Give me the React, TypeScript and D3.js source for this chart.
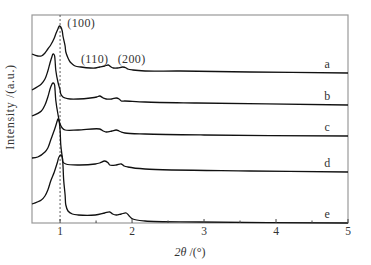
import React from 'react';
import * as d3 from 'd3';

// 2θ (degrees) and intensity (a.u., curves already stacked with offsets)
const curveA: [number, number][] = [
  [0.61, 169], [0.69, 167], [0.74, 167], [0.79, 170], [0.83, 174], [0.87, 178], [0.92, 185],
  [0.94, 189], [0.97, 194], [0.99, 197], [1.01, 196], [1.03, 192], [1.04, 187], [1.07, 177],
  [1.08, 171], [1.11, 165], [1.14, 161], [1.17, 159], [1.21, 157], [1.29, 156], [1.42, 155],
  [1.49, 155], [1.55, 156], [1.62, 157], [1.67, 158], [1.71, 156], [1.74, 155], [1.80, 155],
  [1.87, 156], [1.92, 155], [1.94, 154], [2.01, 153], [2.18, 152], [2.67, 152], [3.64, 151], [5, 150],
];
const curveB: [number, number][] = [
  [0.61, 133], [0.74, 139], [0.79, 144], [0.83, 152], [0.86, 160], [0.89, 167], [0.90, 169],
  [0.92, 168], [0.93, 163], [0.94, 153], [0.97, 141], [1.0, 133], [1.01, 129], [1.04, 126],
  [1.07, 125], [1.14, 124], [1.25, 124], [1.42, 125], [1.51, 126], [1.55, 127], [1.6, 125],
  [1.64, 124], [1.72, 124], [1.78, 125], [1.82, 124], [1.85, 122], [1.9, 122], [2.18, 121],
  [2.9, 120], [5, 118],
];
const curveC: [number, number][] = [
  [0.61, 107], [0.74, 112], [0.79, 118], [0.83, 126], [0.87, 136], [0.90, 140], [0.92, 139],
  [0.93, 133], [0.94, 123], [0.97, 109], [1.0, 99], [1.03, 95], [1.07, 93], [1.25, 93],
  [1.55, 94], [1.6, 92], [1.64, 91], [1.72, 92], [1.78, 93], [1.82, 92], [1.85, 91], [1.9, 90],
  [2.18, 89], [3, 88], [5, 87],
];
const curveD: [number, number][] = [
  [0.61, 65], [0.69, 66], [0.79, 71], [0.83, 75], [0.87, 83], [0.93, 95], [0.96, 102],
  [0.97, 104], [0.985, 102], [1.0, 93], [1.01, 78], [1.03, 66], [1.04, 61], [1.08, 59],
  [1.25, 58], [1.49, 59], [1.55, 60], [1.62, 62], [1.67, 60], [1.69, 58], [1.78, 58],
  [1.85, 59], [1.89, 57], [1.94, 56], [2.18, 54], [3.64, 52], [5, 51],
];
const curveE: [number, number][] = [
  [0.61, 19], [0.74, 23], [0.79, 27], [0.83, 33], [0.87, 42], [0.92, 51], [0.96, 60],
  [0.985, 66], [1.01, 68], [1.03, 66], [1.04, 58], [1.05, 43], [1.07, 28], [1.08, 18],
  [1.11, 12], [1.17, 9], [1.25, 8], [1.49, 8], [1.62, 10], [1.69, 11], [1.73, 9], [1.78, 8],
  [1.85, 9], [1.92, 10], [1.96, 7], [2.01, 4], [2.18, 2], [2.94, 1], [5, 0],
];

const series = [curveA, curveB, curveC, curveD, curveE];
const seriesLabels = ['a', 'b', 'c', 'd', 'e'];

const majorTicks = [1, 2, 3, 4, 5];
const minorTicks = [1.5, 2.5, 3.5, 4.5];

const peakLabels = [
  { text: '(100)', x: 1.1, y: 196 },
  { text: '(110)', x: 1.29, y: 160 },
  { text: '(200)', x: 1.8, y: 160 },
];

const W = 371;
const H = 265;
const margin = { top: 15, right: 23, bottom: 42, left: 32 };
const font = '"Liberation Serif", "Times New Roman", serif';

export default function App() {
  const x = d3.scaleLinear().domain([0.61, 5]).range([margin.left, W - margin.right]);
  const y = d3.scaleLinear().domain([0, 208]).range([H - margin.bottom, margin.top]);
  const line = d3
    .line<[number, number]>()
    .x(d => x(d[0]))
    .y(d => y(d[1]))
    .curve(d3.curveCatmullRom.alpha(0.5));

  const x0 = margin.left;
  const x1 = W - margin.right;
  const y0 = H - margin.bottom;
  const y1 = margin.top;

  return (
    <svg
      width={W}
      height={H}
      style={{ position: 'absolute', left: 0, top: 0, background: '#fff' }}
      fontFamily={font}
    >
      {/* frame */}
      <rect x={x0} y={y1} width={x1 - x0} height={y0 - y1} fill="none" stroke="#999" strokeWidth={1.2} />

      {/* dashed reference line at 2θ = 1 */}
      <line x1={x(1)} x2={x(1)} y1={y1} y2={y0} stroke="#333" strokeWidth={0.8} strokeDasharray="2,2" />

      {/* curves */}
      {series.map((s, i) => (
        <path key={i} d={line(s) || ''} fill="none" stroke="#111" strokeWidth={1.3} />
      ))}

      {/* ticks */}
      {majorTicks.map(t => (
        <g key={t}>
          <line x1={x(t)} x2={x(t)} y1={y0} y2={y0 - 4} stroke="#444" strokeWidth={1} />
          <text x={x(t)} y={y0 + 12} textAnchor="middle" fontSize={11.5} fill="#333">
            {t}
          </text>
        </g>
      ))}
      {minorTicks.map(t => (
        <line key={t} x1={x(t)} x2={x(t)} y1={y0} y2={y0 - 2.5} stroke="#444" strokeWidth={1} />
      ))}

      {/* series labels, placed just above each curve's right end */}
      {seriesLabels.map((l, i) => {
        const s = series[i];
        return (
          <text key={l} x={x(4.71)} y={y(s[s.length - 1][1]) - 5} textAnchor="middle" fontSize={12} fill="#333">
            {l}
          </text>
        );
      })}

      {/* peak labels */}
      {peakLabels.map(p => (
        <text key={p.text} x={x(p.x)} y={y(p.y)} fontSize={12} letterSpacing={0.4} fill="#333">
          {p.text}
        </text>
      ))}

      {/* axis titles */}
      <text x={(x0 + x1) / 2} y={H - 9} textAnchor="middle" fontSize={12} fill="#333">
        <tspan fontStyle="italic">2θ</tspan> /(°)
      </text>
      <text
        transform={`translate(14, ${(y0 + y1) / 2 - 12}) rotate(-90)`}
        textAnchor="middle"
        fontSize={12}
        letterSpacing={0.7}
        fill="#333"
      >
        Intensity /(a.u.)
      </text>
    </svg>
  );
}
